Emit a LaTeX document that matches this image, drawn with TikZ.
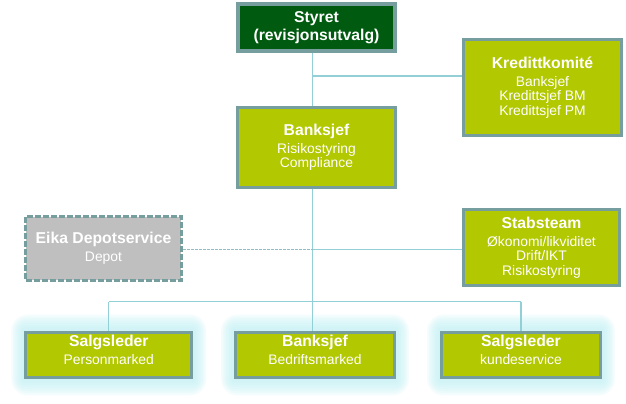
\documentclass[tikz,border=0pt]{standalone}
\usepackage{fontspec}
\setmainfont{Liberation Sans}
\usetikzlibrary{backgrounds,calc}
\definecolor{limefill}{HTML}{B2C800}
\definecolor{bord}{HTML}{779E9F}
\definecolor{darkgreen}{HTML}{005A0F}
\definecolor{conncol}{HTML}{92CFD6}
\definecolor{greyfill}{HTML}{BFBFBF}
\definecolor{glowcol}{HTML}{C8F3F7}
\newcommand\subf{\fontsize{10.4}{10.9}\selectfont}
\newcommand\titf{\fontsize{11.8}{13.5}\selectfont\bfseries}
\begin{document}
\begin{tikzpicture}[x=0.75pt,y=-0.75pt,
  box/.style={draw=bord, line width=2.4pt, fill=limefill, text=white, align=center, inner sep=0pt, font=\subf},
  topbox/.style={box, fill=darkgreen, line width=3pt, font=\titf},
  greybox/.style={box, fill=greyfill, dash pattern=on 4.5pt off 1.5pt},
  lowbox/.style={box, text depth=7.8pt},
  conn/.style={draw=conncol, line width=0.8pt},
  dconn/.style={draw=conncol!80!gray, line width=0.6pt, dash pattern=on 2pt off 1pt},
  glow/.style={fill=glowcol, fill opacity=0.18}
]
\useasboundingbox (0,0) rectangle (626,404);

\node[topbox, minimum width=118pt, minimum height=35.5pt] (styret) at (316.5,27.5)
  {Styret\\[0.3pt](revisjonsutvalg)};
\node[box, minimum width=118.4pt, minimum height=71.9pt] (kk) at (542.5,87.5)
  {{\titf Kredittkomité}\\[2.5pt]Banksjef\\Kredittsjef BM\\Kredittsjef PM};
\node[box, minimum width=118.4pt, minimum height=59.9pt] (bank) at (316.5,147.5)
  {{\titf Banksjef}\\[2.5pt]Risikostyring\\Compliance};
\node[greybox, minimum width=116.9pt, minimum height=47.9pt] (eika) at (103.5,248.5)
  {{\titf Eika Depotservice}\\[2.5pt]Depot};
\node[box, minimum width=116.9pt, minimum height=56.9pt] (stab) at (541.5,247.5)
  {{\titf Stabsteam}\\[2.5pt]Økonomi/likviditet\\Drift/IKT\\Risikostyring};
\node[lowbox, minimum width=124.4pt, minimum height=34.1pt] (pm) at (108.8,355)
  {{\titf Salgsleder}\\[2.5pt]Personmarked};
\node[lowbox, minimum width=119.1pt, minimum height=34.1pt] (bm) at (315,355)
  {{\titf Banksjef}\\[2.5pt]Bedriftsmarked};
\node[lowbox, minimum width=119.1pt, minimum height=34.1pt] (ks) at (521,355)
  {{\titf Salgsleder}\\[2.5pt]kundeservice};

\coordinate (j1) at (312.7,76);
\coordinate (j2) at (312.7,249.3);
\coordinate (bus) at (312.7,301.7);

\begin{scope}[on background layer]
  \fill[white] (0,0) rectangle (626,404);
  \foreach \b in {pm,bm,ks}{
    \foreach \r in {2,4,...,16}{
      \fill[glow, rounded corners=\r*0.75pt]
        ($(\b.north west)+(-\r*0.8,-\r)$) rectangle ($(\b.south east)+(\r*0.8,\r)$);
    }
  }
  \draw[conn] (styret.south -| j1) -- (bank.north -| j1);
  \draw[conn] (bank.south -| j1) -- (bm.north -| j1);
  \draw[conn] (j1) -- (j1 -| kk.west);
  \draw[conn] (j2) -- (j2 -| stab.west);
  \draw[dconn] (eika.east |- j2) -- (j2);
  \draw[conn] (pm.north |- bus) -- (ks.north |- bus);
  \draw[conn] (pm.north |- bus) -- (pm.north);
  \draw[conn] (ks.north |- bus) -- (ks.north);
\end{scope}
\end{tikzpicture}
\end{document}
